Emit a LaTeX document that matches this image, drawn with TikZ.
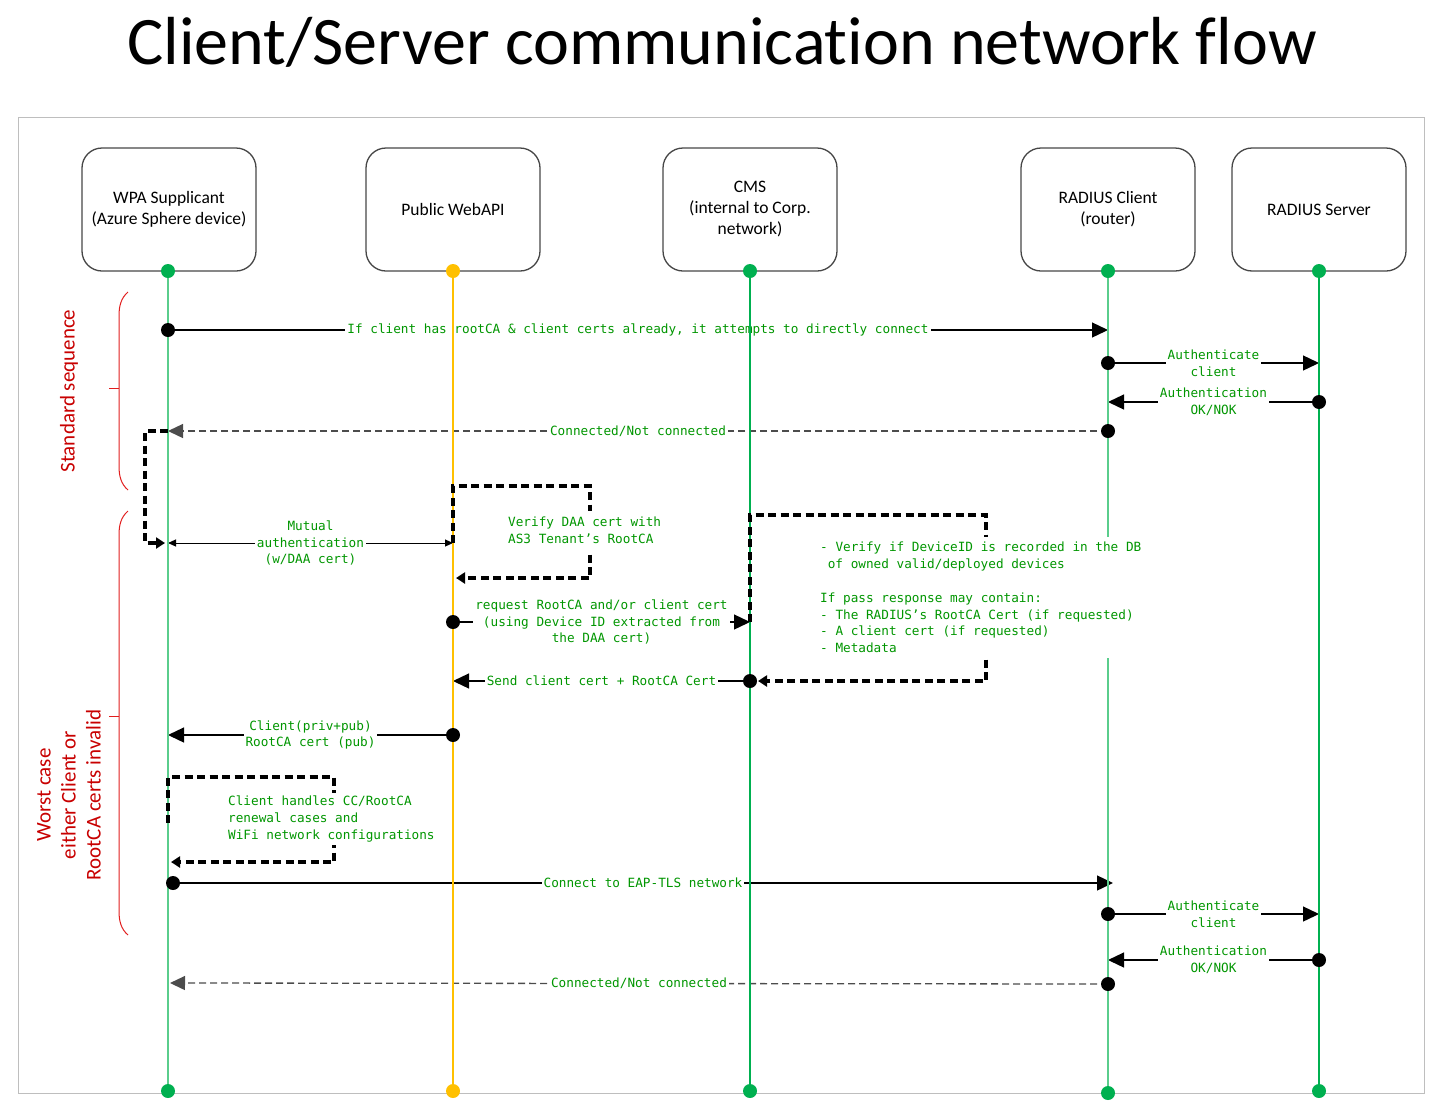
\documentclass[tikz,border=0pt]{standalone}
\usepackage{fontspec}
\setmainfont{Carlito}[Ligatures=NoCommon]
\newfontfamily\monof{DejaVu Sans Mono}
\usetikzlibrary{arrows.meta}
\definecolor{lblgreen}{RGB}{0,150,0}
\definecolor{lifegreen}{RGB}{0,176,80}
\definecolor{lightlife}{RGB}{90,205,140}
\definecolor{lifeyellow}{RGB}{255,192,0}
\definecolor{bracered}{RGB}{225,30,30}
\definecolor{textred}{RGB}{200,0,0}
\definecolor{boxgray}{RGB}{70,70,70}
\definecolor{framegray}{RGB}{190,190,190}
\tikzset{
 actor/.style={draw=boxgray, line width=1.3pt, rounded corners=20pt, minimum width=174pt, minimum height=123pt, align=center, font=\fontsize{17.5}{21}\selectfont, inner sep=0pt},
 enddot/.style={circle, fill=lifegreen, minimum size=14pt, inner sep=0pt},
 enddoty/.style={circle, fill=lifeyellow, minimum size=14pt, inner sep=0pt},
 life/.style={lifegreen, line width=1.2pt},
 lifelight/.style={lightlife, line width=1.2pt},
 lifey/.style={lifeyellow, line width=1.2pt},
 msg/.style={black, line width=1.3pt, -{Triangle[length=16pt,width=15pt]}},
 msgdash/.style={black!70, line width=1.3pt, dash pattern=on 7pt off 4pt, -{Triangle[length=15pt,width=14pt]}},
 lbl/.style={fill=white, text=lblgreen, font=\monof\fontsize{12.7}{16.8}\selectfont, inner xsep=2pt, inner ysep=1pt, align=center},
 loopline/.style={black, line width=3.5pt, dash pattern=on 8pt off 4.5pt, -{Triangle[length=9pt,width=11pt]}},
 brc/.style={bracered, line width=1pt},
 grp/.style={text=textred, font=\fontsize{21}{25}\selectfont, align=center, rotate=90}
}
\begin{document}
\begin{tikzpicture}[x=1pt,y=-1pt]
\useasboundingbox (0,0) rectangle (1445,1114);
\node[font=\fontsize{68}{74}\selectfont, anchor=base] (title) at (722,64) {Client/Server communication network flow};
\draw[framegray, line width=1pt] (18,117) rectangle (1424,1093);

% actors
\node[actor] (wpa) at (169,209.5) {WPA Supplicant\\(Azure Sphere device)};
\node[actor] (api) at (453,209.5) {Public WebAPI};
\node[actor] (cms) at (750,209.5) {CMS\\(internal to Corp.\\network)};
\node[actor] (rc) at (1108,209.5) {RADIUS Client\\(router)};
\node[actor] (rs) at (1319,209.5) {RADIUS Server};

% lifeline end dots
\node[enddot] (t1) at (168,271) {};
\node[enddot] (b1) at (168,1091) {};
\node[enddoty] (t2) at (453,271) {};
\node[enddoty] (b2) at (453,1091) {};
\node[enddot] (t3) at (750,271) {};
\node[enddot] (b3) at (750,1091) {};
\node[enddot] (t4) at (1108,271) {};
\node[enddot] (b4) at (1108,1093) {};
\node[enddot] (t5) at (1319,271) {};
\node[enddot] (b5) at (1319,1091) {};

% group braces
\draw[brc] (128,292) .. controls (121,298) and (119,306) .. (119,316) -- (119,466) .. controls (119,476) and (121,484) .. (128,490);
\draw[brc] (119,388) -- (109,388);
\draw[brc] (128,511) .. controls (121,517) and (119,525) .. (119,535) -- (119,911) .. controls (119,921) and (121,929) .. (128,935);
\draw[brc] (119,716) -- (109,716);
\node[grp] (g1) at (69,391) {Standard sequence};
\node[grp] (g2) at (69,795) {Worst case\\either Client or\\RootCA certs invalid};

% message end points
\coordinate (m1a) at (168,330);  \coordinate (m1b) at (1108,330);
\coordinate (m2a) at (1108,363); \coordinate (m2b) at (1319,363);
\coordinate (m3a) at (1319,402); \coordinate (m3b) at (1108,402);
\coordinate (m4a) at (1108,431); \coordinate (m4b) at (168,431);
\coordinate (m5a) at (168,543);  \coordinate (m5b) at (453,543);
\coordinate (m6a) at (453,622);  \coordinate (m6b) at (750,622);
\coordinate (m7a) at (750,681);  \coordinate (m7b) at (453,681);
\coordinate (m8a) at (453,735);  \coordinate (m8b) at (168,735);
\coordinate (m9a) at (173,883);  \coordinate (m9b) at (1113,883);
\coordinate (m10a) at (1108,914); \coordinate (m10b) at (1319,914);
\coordinate (m11a) at (1319,960); \coordinate (m11b) at (1108,960);
\coordinate (m12a) at (1108,984); \coordinate (m12b) at (170,983);

% messages
\draw[msg] (m1a) -- node[lbl] (l1) {If client has rootCA \& client certs already, it attempts to directly connect} (m1b);
\draw[msg] (m2a) -- node[lbl] (l2) {Authenticate\\client} (m2b);
\draw[msg] (m3a) -- node[lbl] (l3) {Authentication\\OK/NOK} (m3b);
\draw[msgdash] (m4a) -- node[lbl] (l4) {Connected/Not connected} (m4b);
\draw[black, line width=1pt, {Triangle[length=8pt,width=7pt]}-{Triangle[length=8pt,width=7pt]}] (m5a) -- node[lbl] (l5) {Mutual\\authentication\\(w/DAA cert)} (m5b);
\draw[msg] (m6a) -- node[lbl] (l6) {request RootCA and/or client cert\\(using Device ID extracted from\\the DAA cert)} (m6b);
\draw[msg] (m7a) -- node[lbl] (l7) {Send client cert + RootCA Cert} (m7b);
\draw[msg] (m8a) -- node[lbl] (l8) {Client(priv+pub)\\RootCA cert (pub)} (m8b);
\draw[msg] (m9a) -- node[lbl] (l9) {Connect to EAP-TLS network} (m9b);
\draw[msg] (m10a) -- node[lbl] (l10) {Authenticate\\client} (m10b);
\draw[msg] (m11a) -- node[lbl] (l11) {Authentication\\OK/NOK} (m11b);
\draw[msgdash] (m12a) -- node[lbl] (l12) {Connected/Not connected} (m12b);

% lifelines
\draw[lifelight] (t1) -- (b1);
\draw[lifey] (t2) -- (b2);
\draw[life] (t3) -- (b3);
\draw[lifelight] (t4) -- (b4);
\draw[life] (t5) -- (b5);

% start dots of messages
\foreach \c in {m1a,m2a,m3a,m4a,m6a,m7a,m8a,m9a,m10a,m11a,m12a}
  \fill[black] (\c) circle[radius=7pt];

% self / elbow loops (thick dashed)
\draw[loopline] (m4b) -- (145,431) -- (145,543) -- (165,543);
\draw[loopline] (m5b) -- (453,486) -- (590,486) -- (590,578) -- (456,578);
\draw[loopline] (m6b) -- (750,515) -- (986,515) -- (986,681) -- (758,681);
\draw[loopline] (168,823) -- (168,777) -- (334,777) -- (334,862) -- (171,862);

% loop notes
\node[lbl, align=left, anchor=west, inner xsep=4pt, inner ysep=6pt] (n1) at (504,530.5) {Verify DAA cert with\\AS3 Tenant’s RootCA};
\node[lbl, align=left, anchor=west, inner xsep=4pt, inner ysep=3pt] (n3) at (224,819) {Client handles CC/RootCA\\renewal cases and\\WiFi network configurations};
\node[lbl, align=left, anchor=north west, inner xsep=5pt, inner ysep=5pt] (n2) at (815,537) {- Verify if DeviceID is recorded in the DB\\\hspace*{0.6em}of owned valid/deployed devices\\[16.8pt]If pass response may contain:\\- The RADIUS’s RootCA Cert (if requested)\\- A client cert (if requested)\\- Metadata};
\end{tikzpicture}
\end{document}
